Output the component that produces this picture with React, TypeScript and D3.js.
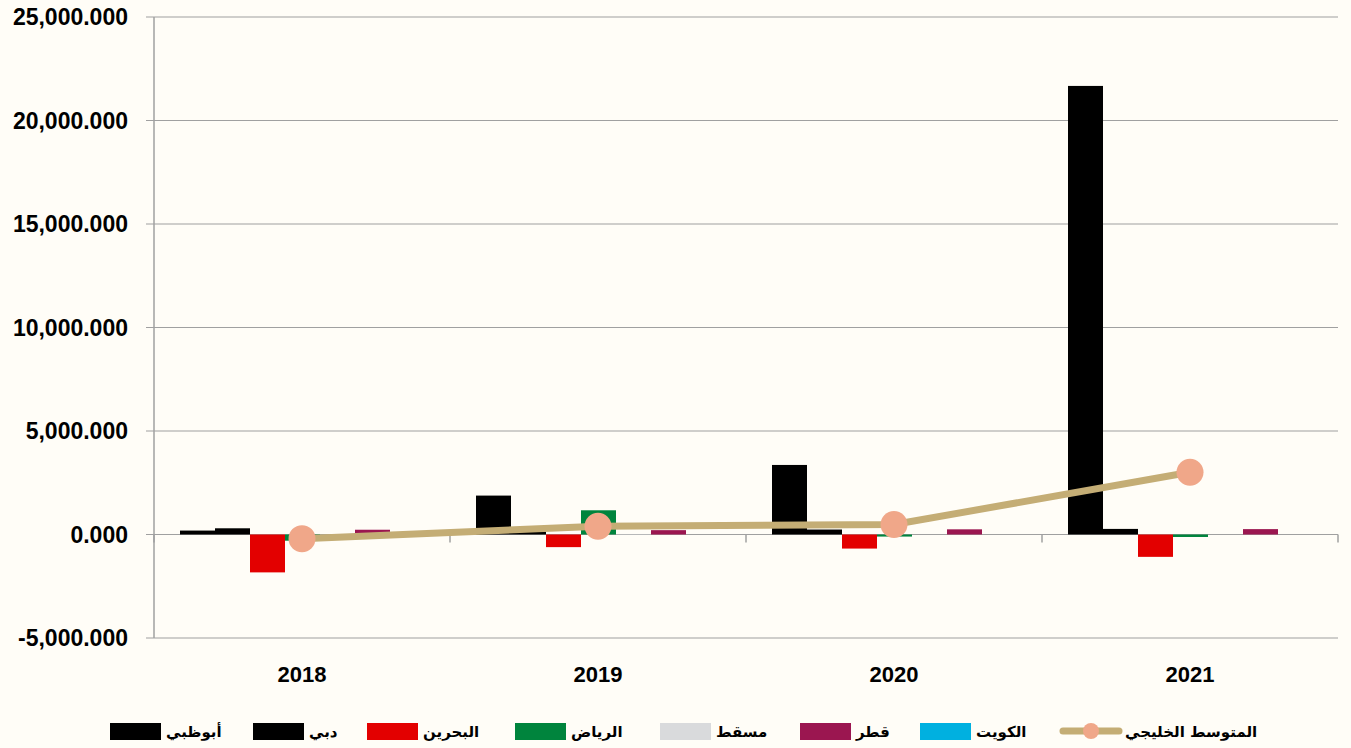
import { useEffect, useRef } from 'react';
import * as d3 from 'd3';

const years = ['2018', '2019', '2020', '2021'];
const seriesNames = ['أبوظبي', 'دبي', 'البحرين', 'الرياض', 'مسقط', 'قطر', 'الكويت'];
const seriesColors = ['#000000', '#000000', '#e30000', '#00843d', '#d9dadc', '#9b1650', '#00b0e0'];
const abuDhabi = [190, 1880, 3360, 21670];
const dubai = [300, 150, 240, 270];
const bahrain = [-1830, -610, -680, -1080];
const riyadh = [-300, 1170, -100, -120];
const muscat = [0, 20, 0, 0];
const qatar = [230, 210, 250, 260];
const kuwait = [0, 0, 0, 0];
const gulfAvg = [-200, 400, 480, 3010];
const avgName = 'المتوسط الخليجي';
const yTicks = [-5000, 0, 5000, 10000, 15000, 20000, 25000];

const App = () => {
  const ref = useRef<SVGSVGElement | null>(null);

  useEffect(() => {
    const svg = d3.select(ref.current);
    svg.selectAll('*').remove();

    const left = 154, right = 1338, top = 17, bottom = 638;
    const allSeries = [abuDhabi, dubai, bahrain, riyadh, muscat, qatar, kuwait];

    svg.append('rect').attr('width', 1351).attr('height', 748).attr('fill', '#fffdf7');

    const y = d3.scaleLinear().domain([-5000, 25000]).range([bottom, top]);
    const x0 = d3.scaleBand<string>().domain(years).range([left, right]);
    const inner = d3.scaleBand<number>()
      .domain(d3.range(seriesNames.length))
      .range([26, x0.bandwidth() - 25]);

    // grid + y labels
    const fmt = (d: number) => d3.format(',.3f')(d).replace('−', '-');
    svg.append('g').selectAll('line').data(yTicks).join('line')
      .attr('x1', left - 8).attr('x2', right)
      .attr('y1', d => y(d)).attr('y2', d => y(d))
      .attr('stroke', '#a0a0a0').attr('stroke-width', 1.2);
    svg.append('g').selectAll('text').data(yTicks).join('text')
      .attr('x', 128).attr('y', d => y(d) + 8)
      .attr('text-anchor', 'end')
      .style('font-family', '"Liberation Sans", Arial, sans-serif')
      .style('font-weight', 'bold').style('font-size', '23px')
      .text(d => fmt(d));

    svg.append('line').attr('x1', left).attr('x2', left).attr('y1', top).attr('y2', bottom)
      .attr('stroke', '#a0a0a0').attr('stroke-width', 1.5);

    // bars
    allSeries.forEach((vals, si) => {
      svg.append('g').selectAll('rect').data(vals).join('rect')
        .attr('x', (_, i) => (x0(years[i]) ?? 0) + (inner(si) ?? 0))
        .attr('width', inner.bandwidth())
        .attr('y', d => y(Math.max(0, d)))
        .attr('height', d => Math.abs(y(d) - y(0)))
        .attr('fill', seriesColors[si]);
    });

    // x axis ticks
    const tickXs = [...years.map(yr => x0(yr) ?? 0), right];
    svg.append('g').selectAll('line').data(tickXs).join('line')
      .attr('x1', d => d).attr('x2', d => d)
      .attr('y1', y(0)).attr('y2', y(0) + 8)
      .attr('stroke', '#a0a0a0').attr('stroke-width', 1.5);

    svg.append('g').selectAll('text').data(years).join('text')
      .attr('x', d => (x0(d) ?? 0) + x0.bandwidth() / 2)
      .attr('y', 682)
      .attr('text-anchor', 'middle')
      .style('font-family', '"Liberation Sans", Arial, sans-serif')
      .style('font-weight', 'bold').style('font-size', '22px')
      .text(d => d);

    // average line
    const cx = (i: number) => (x0(years[i]) ?? 0) + x0.bandwidth() / 2;
    const line = d3.line<number>().x((_, i) => cx(i)).y(d => y(d));
    svg.append('path').datum(gulfAvg)
      .attr('d', line).attr('fill', 'none')
      .attr('stroke', '#c4ad75').attr('stroke-width', 7);
    svg.append('g').selectAll('circle').data(gulfAvg).join('circle')
      .attr('cx', (_, i) => cx(i)).attr('cy', d => y(d)).attr('r', 13.5)
      .attr('fill', '#f0a789');

    // legend
    const legendXs = [110, 253, 367, 515, 660, 800, 920];
    const lg = svg.append('g');
    seriesNames.forEach((name, i) => {
      lg.append('rect').attr('x', legendXs[i]).attr('y', 723).attr('width', 51).attr('height', 17)
        .attr('fill', seriesColors[i]);
      lg.append('text').attr('x', legendXs[i] + 56).attr('y', 737)
        .attr('text-anchor', 'start')
        .style('font-family', '"DejaVu Sans", sans-serif').style('font-weight', 'bold')
        .style('font-size', '15px')
        .text(name);
    });
    lg.append('line').attr('x1', 1063).attr('x2', 1119).attr('y1', 731).attr('y2', 731)
      .attr('stroke', '#c4ad75').attr('stroke-width', 7).attr('stroke-linecap', 'round');
    lg.append('circle').attr('cx', 1091).attr('cy', 731).attr('r', 8).attr('fill', '#f0a789');
    lg.append('text').attr('x', 1125).attr('y', 737)
      .style('font-family', '"DejaVu Sans", sans-serif').style('font-weight', 'bold')
      .style('font-size', '15px')
      .text(avgName);
  }, []);

  return (
    <svg ref={ref} width={1351} height={748}
      style={{ position: 'absolute', left: 0, top: 0, display: 'block' }} />
  );
};

export default App;
